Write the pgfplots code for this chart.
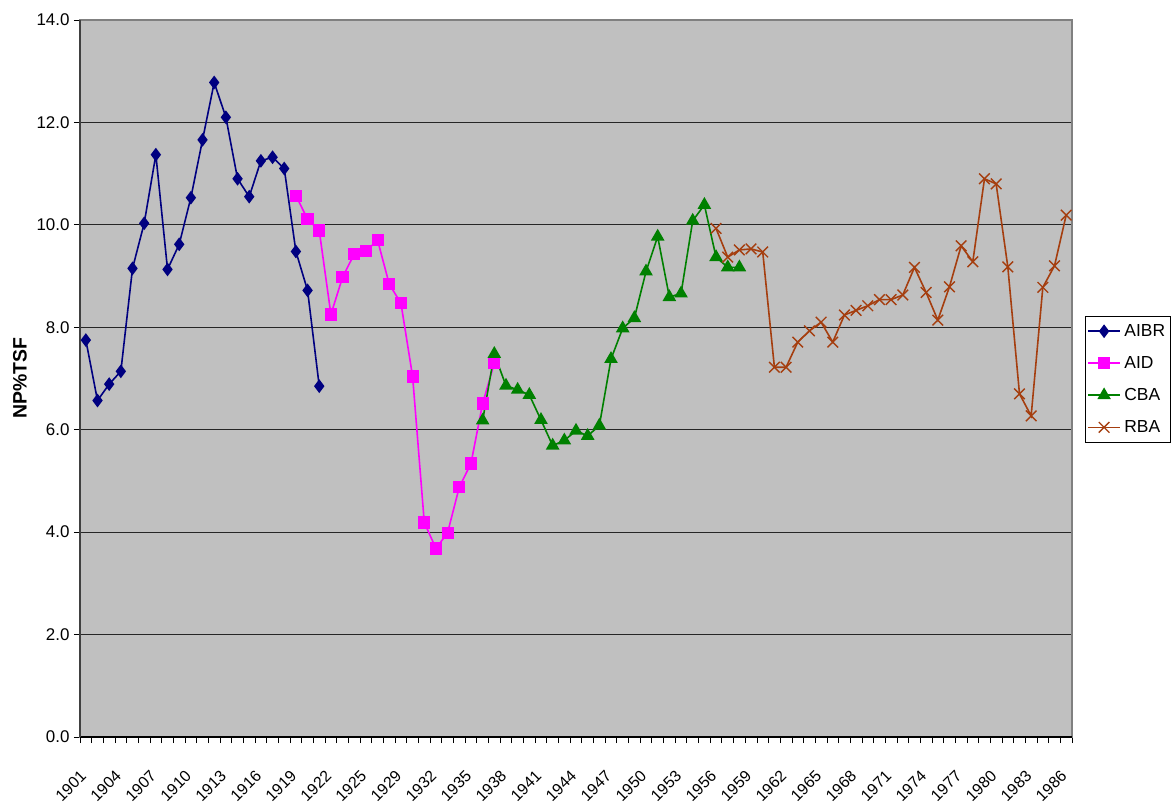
\documentclass[border=0pt]{standalone}
\usepackage{pgfplots}
\pgfplotsset{compat=1.18}
\usepackage{fontspec}
\setmainfont{Liberation Sans}
\definecolor{cAIBR}{RGB}{0,0,128}
\definecolor{cAID}{RGB}{255,0,255}
\definecolor{cCBA}{RGB}{0,128,0}
\definecolor{cRBA}{RGB}{165,62,15}
\definecolor{plotbg}{RGB}{192,192,192}
\definecolor{frame}{RGB}{128,128,128}
\begin{document}
\begin{tikzpicture}
\begin{axis}[
  scale only axis,
  width=992bp, height=717bp,
  xmin=-0.5, xmax=84.5,
  ymin=0, ymax=14,
  axis background/.style={fill=plotbg},
  axis line style={draw=frame, line width=1.2bp},
  xtick={-0.5,0.5,...,84.5},
  xticklabels={},
  extra x ticks={0,3,...,84},
  extra x tick labels={1901,1904,1907,1910,1913,1916,1919,1922,1925,1929,1932,1935,1938,1941,1944,1947,1950,1953,1956,1959,1962,1965,1968,1971,1974,1977,1980,1983,1986},
  extra x tick style={tick style={draw=none}},
  major tick length=6bp,
  tick align=outside,
  xtick pos=bottom, ytick pos=left,
  ytick={0,2,...,14},
  tick style={draw=black, line width=0.8bp},
  ymajorgrids,
  grid style={draw=black!85, line width=0.9bp},
  yticklabel style={font=\fontsize{17}{20}\selectfont, xshift=-1bp},
  xticklabel style={font=\fontsize{16}{19}\selectfont, yshift=-28bp, rotate=45, anchor=east},
  /pgf/number format/.cd, fixed, fixed zerofill, precision=1, assume math mode=true,
  /pgfplots/.cd,
  ylabel={\textbf{NP\%TSF}},
  ylabel style={font=\fontsize{19.5}{22}\selectfont, at={(axis description cs:-0.0605,0.5)}, anchor=center},
  legend style={at={(1.013,0.587)}, anchor=north west, draw=black, line width=0.8bp, fill=white,
    font=\fontsize{17.5}{20}\selectfont, row sep=14.5bp, inner xsep=2bp, inner ysep=6bp,
    nodes={inner xsep=3.5bp}},
  legend cell align=left,
  legend image code/.code={\draw[mark repeat=2,mark phase=2,#1] plot coordinates {(0bp,0bp)(16bp,0bp)(32bp,0bp)};},
  clip=false,
]
\addplot[color=cAIBR, line width=1.6bp, mark=diamond*, mark size=5.6bp, mark options={solid, fill=cAIBR}] coordinates {
(0,7.75)(1,6.57)(2,6.89)(3,7.14)(4,9.15)(5,10.03)(6,11.37)(7,9.13)(8,9.62)(9,10.53)
(10,11.66)(11,12.78)(12,12.10)(13,10.90)(14,10.55)(15,11.25)(16,11.32)(17,11.10)(18,9.48)(19,8.72)(20,6.85)};
\addlegendentry{AIBR}
\addplot[color=cAID, line width=1.6bp, mark=square*, mark size=5.3bp, mark options={solid, fill=cAID}] coordinates {
(18,10.57)(19,10.11)(20,9.89)(21,8.25)(22,8.98)(23,9.43)(24,9.49)(25,9.70)(26,8.84)(27,8.47)
(28,7.04)(29,4.19)(30,3.68)(31,3.99)(32,4.88)(33,5.34)(34,6.51)(35,7.30)};
\addlegendentry{AID}
\addplot[color=cCBA, line width=1.6bp, mark=triangle*, mark size=6.3bp, mark options={solid, fill=cCBA}] coordinates {
(34,6.18)(35,7.48)(36,6.86)(37,6.78)(38,6.68)(39,6.19)(40,5.69)(41,5.79)(42,5.98)(43,5.88)
(44,6.08)(45,7.38)(46,7.98)(47,8.18)(48,9.09)(49,9.77)(50,8.59)(51,8.66)(52,10.08)(53,10.39)
(54,9.37)(55,9.17)(56,9.17)};
\addlegendentry{CBA}
\addplot[color=cRBA, line width=1.6bp, mark=x, mark size=7.5bp, mark options={solid, line width=1.4bp}] coordinates {
(54,9.93)(55,9.37)(56,9.51)(57,9.53)(58,9.47)(59,7.22)(60,7.22)(61,7.71)(62,7.93)(63,8.10)
(64,7.71)(65,8.24)(66,8.33)(67,8.42)(68,8.54)(69,8.54)(70,8.63)(71,9.17)(72,8.68)(73,8.14)
(74,8.79)(75,9.59)(76,9.28)(77,10.90)(78,10.80)(79,9.18)(80,6.70)(81,6.27)(82,8.78)(83,9.20)(84,10.19)};
\addlegendentry{RBA}
\draw[black, line width=1.2bp] (rel axis cs:0,0) -- (rel axis cs:1,0);
\draw[black!75, line width=1.2bp] (rel axis cs:0,0) -- (rel axis cs:0,1);
\end{axis}
\path (current axis.south west) ++(-80bp,-69bp) rectangle ++(1175bp,806bp);
\end{tikzpicture}
\end{document}
